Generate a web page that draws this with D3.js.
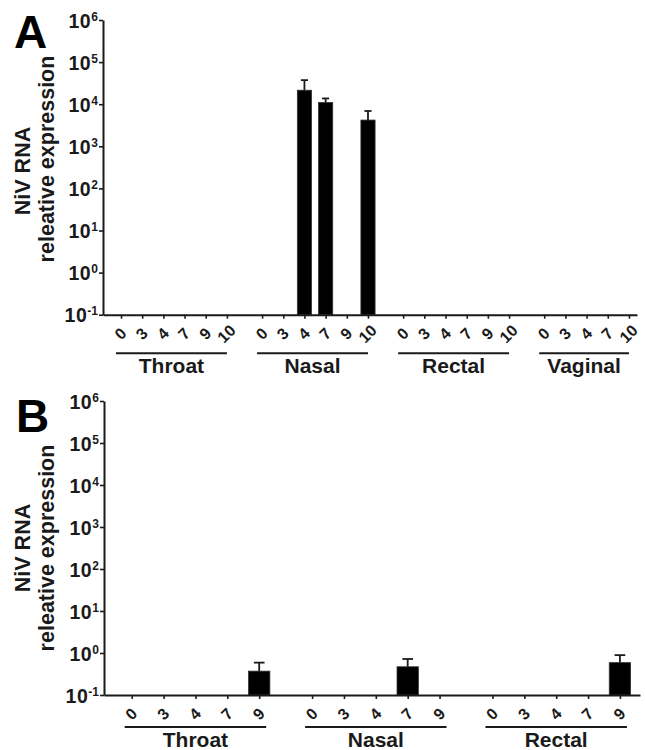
<!DOCTYPE html>
<html>
<head>
<meta charset="utf-8">
<script src="https://cdn.jsdelivr.net/npm/d3@7"></script>
<style>
  html, body { margin: 0; padding: 0; background: #fff; }
  svg { display: block; font-family: "Liberation Sans", Arial, Helvetica, sans-serif; font-weight: bold; }
</style>
</head>
<body>
<svg id="chart" width="645" height="750"></svg>
<script>
// ---------- DATA ----------
const yTickValues = [0.1, 1, 10, 100, 1000, 10000, 100000, 1000000];
const yTickExponents = ["-1", "0", "1", "2", "3", "4", "5", "6"];
const yTitleLines = ["NiV RNA", "releative expression"];

// Panel A
const groupsA = ["Throat", "Nasal", "Rectal", "Vaginal"];
const daysA = [
  ["0", "3", "4", "7", "9", "10"],
  ["0", "3", "4", "7", "9", "10"],
  ["0", "3", "4", "7", "9", "10"],
  ["0", "3", "4", "7", "10"]
];
const valuesA = [
  [null, null, null, null, null, null],
  [null, null, 21500, 11000, null, 4200],
  [null, null, null, null, null, null],
  [null, null, null, null, null]
];
const errorsA = [
  [null, null, null, null, null, null],
  [null, null, 37300, 13700, null, 6900],
  [null, null, null, null, null, null],
  [null, null, null, null, null]
];

// Panel B
const groupsB = ["Throat", "Nasal", "Rectal"];
const daysB = [
  ["0", "3", "4", "7", "9"],
  ["0", "3", "4", "7", "9"],
  ["0", "3", "4", "7", "9"]
];
const valuesB = [
  [null, null, null, null, 0.37],
  [null, null, null, 0.47, null],
  [null, null, null, null, 0.59]
];
const errorsB = [
  [null, null, null, null, 0.59],
  [null, null, null, 0.72, null],
  [null, null, null, null, 0.89]
];

// ---------- DRAW ----------
const svg = d3.select("#chart");
const INK = "#1a1a1a";
const FONT = "'Liberation Sans', Arial, sans-serif";

function drawPanel(letter, groups, days, values, errors, cfg) {
  const g = svg.append("g");

  const items = [];
  const spans = [];
  let pos = 0;
  groups.forEach((name, gi) => {
    const start = pos;
    days[gi].forEach((d, di) => {
      items.push({ pos: pos, day: d, v: values[gi][di], e: errors[gi][di] });
      pos += 1;
    });
    spans.push({ name: name, start: start, end: pos - 1 });
    pos += cfg.gap;
  });
  const lastPos = items[items.length - 1].pos;

  const x = d3.scaleLinear().domain([-cfg.padL, lastPos + cfg.padR]).range([cfg.x0, cfg.x1]);
  const y = d3.scaleLog().domain([0.1, 1e6]).range([cfg.yB, cfg.yT]);
  const unit = x(1) - x(0);
  const bw = unit * 0.67;

  const bars = items.filter(d => d.v != null);
  g.selectAll("rect.bar").data(bars).enter().append("rect")
    .attr("class", "bar")
    .attr("x", d => x(d.pos) - bw / 2)
    .attr("y", d => y(d.v))
    .attr("width", bw)
    .attr("height", d => y(0.1) - y(d.v))
    .attr("fill", "#000")
    .attr("stroke", "#333")
    .attr("stroke-width", 0.8);

  g.selectAll("line.err").data(bars).enter().append("line")
    .attr("x1", d => x(d.pos)).attr("x2", d => x(d.pos))
    .attr("y1", d => y(d.v)).attr("y2", d => y(d.e))
    .attr("stroke", INK).attr("stroke-width", 1.8);
  g.selectAll("line.cap").data(bars).enter().append("line")
    .attr("x1", d => x(d.pos) - bw / 4).attr("x2", d => x(d.pos) + bw / 4)
    .attr("y1", d => y(d.e)).attr("y2", d => y(d.e))
    .attr("stroke", INK).attr("stroke-width", 1.8);

  const dayByPos = new Map(items.map(d => [d.pos, d.day]));
  const xAxis = d3.axisBottom(x)
    .tickValues(items.map(d => d.pos))
    .tickFormat(p => dayByPos.get(p))
    .tickSize(4).tickSizeOuter(0);
  const gx = g.append("g").attr("transform", `translate(0,${cfg.yB})`).call(xAxis)
    .attr("font-size", 16).attr("font-family", FONT).attr("font-weight", "bold");
  gx.select(".domain").attr("stroke", INK).attr("stroke-width", 2);
  gx.selectAll(".tick line").attr("stroke", INK).attr("stroke-width", 1.6);
  gx.selectAll(".tick text")
    .attr("y", 0).attr("dy", "0.35em")
    .attr("transform", `translate(-1,${cfg.labelDy}) rotate(-45)`)
    .attr("text-anchor", "middle")
    .attr("fill", INK)
    .attr("font-size", 16);

  const yAxis = d3.axisLeft(y).tickValues(yTickValues).tickSize(4).tickPadding(1)
    .tickSizeOuter(0).tickFormat(() => "");
  const gy = g.append("g").attr("transform", `translate(${cfg.x0},0)`).call(yAxis)
    .attr("font-size", 19.5).attr("font-family", FONT).attr("font-weight", "bold");
  gy.select(".domain").attr("stroke", INK).attr("stroke-width", 2);
  gy.selectAll(".tick line").attr("stroke", INK).attr("stroke-width", 1.6);
  gy.selectAll(".tick text").each(function (d) {
    const t = d3.select(this);
    t.text(null).attr("fill", INK).attr("font-size", 19.5).attr("dy", "0.36em");
    t.append("tspan").text("10").attr("letter-spacing", 0.6);
    t.append("tspan").text(yTickExponents[yTickValues.indexOf(d)])
      .attr("dy", "-7").attr("font-size", 12);
  });

  spans.forEach(s => {
    const xa = x(s.start) + cfg.linePad[0];
    const xb = x(s.end) + cfg.linePad[1];
    g.append("line")
      .attr("x1", xa).attr("x2", xb)
      .attr("y1", cfg.lineY).attr("y2", cfg.lineY)
      .attr("stroke", INK).attr("stroke-width", 2);
    g.append("text")
      .attr("x", (xa + xb) / 2).attr("y", cfg.groupY)
      .attr("text-anchor", "middle")
      .attr("fill", INK)
      .attr("font-size", 21)
      .text(s.name);
  });

  g.append("text")
    .attr("transform", `translate(${cfg.title1X},${cfg.title1Y}) rotate(-90)`)
    .attr("text-anchor", "middle").attr("fill", INK)
    .attr("font-size", 21.5)
    .text(yTitleLines[0]);
  g.append("text")
    .attr("transform", `translate(${cfg.title2X},${cfg.title2Y}) rotate(-90)`)
    .attr("text-anchor", "middle").attr("fill", INK)
    .attr("font-size", 21.5)
    .text(yTitleLines[1]);

  g.append("text")
    .attr("x", cfg.letterX).attr("y", cfg.letterY)
    .attr("fill", "#000")
    .attr("font-size", 46)
    .text(letter);
}

drawPanel("A", groupsA, daysA, valuesA, errorsA, {
  x0: 103, x1: 637, yT: 20, yB: 314.7,
  gap: 0.66, padL: 0.85, padR: 0.38,
  labelDy: 19, lineY: 353.3, linePad: [-5, 0], groupY: 373,
  title1X: 30, title1Y: 171, title2X: 54, title2Y: 159,
  letterX: 14, letterY: 48
});

drawPanel("B", groupsB, daysB, valuesB, errorsB, {
  x0: 104, x1: 640, yT: 401, yB: 695,
  gap: 0.66, padL: 0.87, padR: 0.63,
  labelDy: 19, lineY: 727, linePad: [-7, 7], groupY: 747,
  title1X: 30, title1Y: 548, title2X: 54, title2Y: 548,
  letterX: 16, letterY: 432
});
</script>
</body>
</html>
